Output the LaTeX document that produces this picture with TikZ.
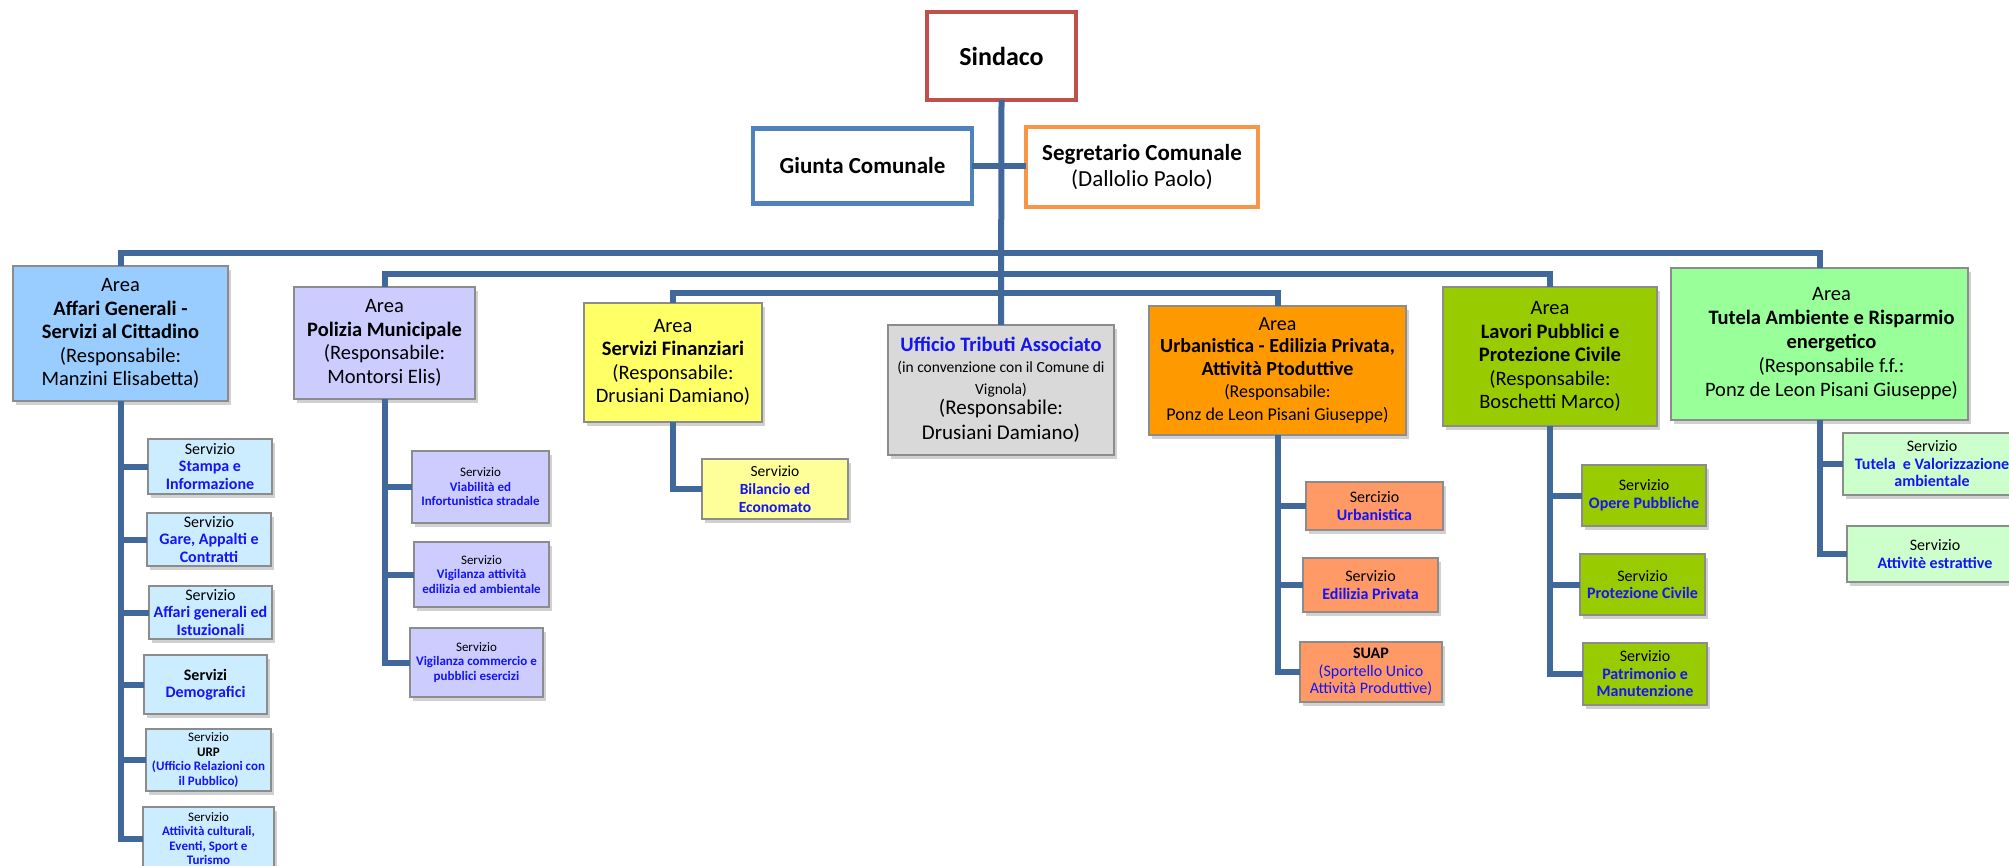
\documentclass[tikz,border=0pt]{standalone}
\usepackage{fontspec}
\setmainfont{Carlito}
\usetikzlibrary{shadows}
\definecolor{lineblue}{RGB}{65,104,155}
\definecolor{tblue}{RGB}{20,20,245}
\definecolor{sindred}{RGB}{192,80,77}
\definecolor{giublue}{RGB}{79,129,189}
\definecolor{segorange}{RGB}{247,150,70}
\definecolor{aBlue}{RGB}{153,204,255}
\definecolor{sBlue}{RGB}{204,236,255}
\definecolor{aLav}{RGB}{204,204,255}
\definecolor{aYel}{RGB}{255,255,102}
\definecolor{sYel}{RGB}{255,255,153}
\definecolor{aGray}{RGB}{217,217,217}
\definecolor{aOrange}{RGB}{255,153,0}
\definecolor{sSalmon}{RGB}{255,153,102}
\definecolor{aOlive}{RGB}{153,204,0}
\definecolor{aGreen}{RGB}{153,255,153}
\definecolor{sGreen}{RGB}{204,255,204}
\newcommand{\setfs}[2]{\fontsize{#1}{#2}\selectfont}
\newcommand{\bbl}[1]{{\bfseries\color{tblue}#1}}
\begin{document}
\begin{tikzpicture}[x=1pt,y=-1pt,
  conn/.style={draw=lineblue,line width=6pt},
  topbox/.style={draw,fill=white,line width=4.5pt,inner sep=0pt,outer sep=0pt,align=center,
    drop shadow={shadow xshift=2pt,shadow yshift=-2pt,opacity=0.25,fill=black!50}},
  box/.style={draw=black!45,line width=1.3pt,inner sep=0pt,outer sep=0pt,align=center,
    drop shadow={shadow xshift=3pt,shadow yshift=-4pt,opacity=0.3,fill=black!60}},
  areabox/.style={box,font=\setfs{20.5}{23.5}},
  svc/.style={box,font=\setfs{16}{17.5}},
  svcsmall/.style={box,font=\setfs{13}{14.5}}]
\useasboundingbox (0,0) rectangle (2009,866);
\clip (0,0) rectangle (2009,866);

% top level
\node[topbox,draw=sindred,minimum width=149pt,minimum height=88pt,font=\setfs{26}{30}] (sindaco) at (1001.5,56) {\bfseries Sindaco};
\node[topbox,draw=giublue,minimum width=219pt,minimum height=75pt,font=\setfs{23}{26}] (giunta) at (862.5,166) {\bfseries Giunta Comunale};
\node[topbox,draw=segorange,minimum width=232pt,minimum height=80pt,font=\setfs{23}{26}] (segr) at (1142,167) {\bfseries Segretario Comunale\\(Dallolio Paolo)};

% areas
\node[areabox,fill=aBlue,minimum width=215pt,minimum height=135pt] (a1) at (120.5,333.5)
  {Area\\\textbf{Affari Generali -}\\\textbf{Servizi al Cittadino}\\(Responsabile:\\Manzini Elisabetta)};
\node[areabox,fill=aLav,minimum width=181pt,minimum height=112pt] (a2) at (384.5,343)
  {Area\\\textbf{Polizia Municipale}\\(Responsabile:\\Montorsi Elis)};
\node[areabox,fill=aYel,minimum width=178pt,minimum height=119pt] (a3) at (673,362.5)
  {Area\\\textbf{Servizi Finanziari}\\(Responsabile:\\Drusiani Damiano)};
\node[box,fill=aGray,minimum width=226pt,minimum height=130pt,font=\setfs{21}{22}] (trib) at (1001,390)
  {{\setfs{20.5}{22}\bbl{Ufficio Tributi Associato}}\\[-1pt]{\setfs{15.5}{17}(in convenzione con il Comune di}\\[0pt]{\setfs{15.5}{17}Vignola)}\\[-2pt](Responsabile:\\[3pt]Drusiani Damiano)};
\node[box,fill=aOrange,minimum width=257pt,minimum height=129pt,font=\setfs{20}{22.5}] (a4) at (1277.5,370.5)
  {Area\\\textbf{Urbanistica - Edilizia Privata,}\\\textbf{Attività Ptoduttive}\\{\setfs{18}{19.5}(Responsabile:}\\{\setfs{18}{19.5}Ponz de Leon Pisani Giuseppe)}};
\node[areabox,fill=aOlive,minimum width=214pt,minimum height=139pt] (a5) at (1550,356.5)
  {Area\\\textbf{Lavori Pubblici e}\\\textbf{Protezione Civile}\\(Responsabile:\\Boschetti Marco)};
\node[areabox,fill=aGreen,minimum width=297pt,minimum height=152pt,font=\setfs{20.5}{24}] (a6) at (1819.5,344)
  {\hspace*{24pt}{\setlength{\tabcolsep}{0pt}\begin{tabular}{c}Area\\\textbf{Tutela Ambiente e Risparmio}\\\textbf{energetico}\\(Responsabile f.f.:\\Ponz de Leon Pisani Giuseppe)\end{tabular}}};

% services area 1
\node[svc,fill=sBlue,minimum width=124pt,minimum height=55pt] (s1) at (210,466.5) {Servizio\\\bbl{Stampa e}\\\bbl{Informazione}};
\node[svc,fill=sBlue,minimum width=124pt,minimum height=53pt] (s2) at (209,539.5) {Servizio\\\bbl{Gare, Appalti e}\\\bbl{Contratti}};
\node[svc,fill=sBlue,minimum width=123pt,minimum height=53pt] (s3) at (210.5,612.5) {Servizio\\\bbl{Affari generali ed}\\\bbl{Istuzionali}};
\node[svc,fill=sBlue,minimum width=123pt,minimum height=59pt] (s4) at (205.5,684.5) {\textbf{Servizi}\\\bbl{Demografici}};
\node[svcsmall,fill=sBlue,minimum width=125pt,minimum height=62pt] (s5) at (208.5,760) {Servizio\\\textbf{URP}\\\bbl{(Ufficio Relazioni con}\\\bbl{il Pubblico)}};
\node[svcsmall,fill=sBlue,minimum width=131pt,minimum height=63pt] (s6) at (208.5,838.5) {Servizio\\\bbl{Attiività culturali,}\\\bbl{Eventi, Sport e}\\\bbl{Turismo}};

% services polizia
\node[svcsmall,fill=aLav,minimum width=137pt,minimum height=72pt] (p1) at (480.5,487) {Servizio\\\bbl{Viabilità ed}\\\bbl{Infortunistica stradale}};
\node[svcsmall,fill=aLav,minimum width=135pt,minimum height=65pt] (p2) at (481.5,574.5) {Servizio\\\bbl{Vigilanza attività}\\\bbl{edilizia ed ambientale}};
\node[svcsmall,fill=aLav,minimum width=133pt,minimum height=69pt] (p3) at (476.5,662.5) {Servizio\\\bbl{Vigilanza commercio e}\\\bbl{pubblici esercizi}};

% services finanziari
\node[svc,fill=sYel,minimum width=146pt,minimum height=60pt,font=\setfs{15.5}{18}] (b1) at (775,489) {Servizio\\\bbl{Bilancio ed}\\\bbl{Economato}};

% services urbanistica
\node[svc,fill=sSalmon,minimum width=137pt,minimum height=48pt] (u1) at (1374.5,506) {Sercizio\\\bbl{Urbanistica}};
\node[svc,fill=sSalmon,minimum width=135pt,minimum height=54pt] (u2) at (1370.5,585) {Servizio\\\bbl{Edilizia Privata}};
\node[svc,fill=sSalmon,minimum width=142pt,minimum height=60pt] (u3) at (1371,672) {\textbf{SUAP}\\{\color{tblue}(Sportello Unico}\\{\color{tblue}Attività Produttive)}};

% services lavori
\node[svc,fill=aOlive,minimum width=124pt,minimum height=61pt] (l1) at (1644,495.5) {Servizio\\\bbl{Opere Pubbliche}};
\node[svc,fill=aOlive,minimum width=125pt,minimum height=61pt] (l2) at (1642.5,584.5) {Servizio\\\bbl{Protezione Civile}};
\node[svc,fill=aOlive,minimum width=124pt,minimum height=62pt] (l3) at (1645,674) {Servizio\\\bbl{Patrimonio e}\\\bbl{Manutenzione}};

% services tutela
\node[svc,fill=sGreen,minimum width=178pt,minimum height=62pt] (t1) at (1932,464) {Servizio\\\bbl{Tutela\ \ e Valorizzazione}\\\bbl{ambientale}};
\node[svc,fill=sGreen,minimum width=176pt,minimum height=56pt] (t2) at (1935,554) {Servizio\\\bbl{Attivitè estrattive}};

% connectors
\coordinate (bus1) at (1002,253);
\coordinate (bus2) at (1002,274);
\coordinate (bus3) at (1002,293);
\draw[conn] (sindaco.south) -- (trib.north);
\draw[conn] (giunta.east) -- (giunta.east -| segr.west);
\draw[conn] (a1.north) |- (bus1) -| (a6.north);
\draw[conn] (a2.north) |- (bus2) -| (a5.north);
\draw[conn] (a3.north) |- (bus3) -| (a4.north);

\foreach \s in {s1,s2,s3,s4,s5,s6} {\draw[conn] (a1.south) |- (\s.west);}
\foreach \s in {p1,p2,p3} {\draw[conn] (a2.south) |- (\s.west);}
\draw[conn] (a3.south) |- (b1.west);
\foreach \s in {u1,u2,u3} {\draw[conn] (a4.south) |- (\s.west);}
\foreach \s in {l1,l2,l3} {\draw[conn] (a5.south) |- (\s.west);}
\foreach \s in {t1,t2} {\draw[conn] (a6.south) |- (\s.west);}
\end{tikzpicture}
\end{document}
